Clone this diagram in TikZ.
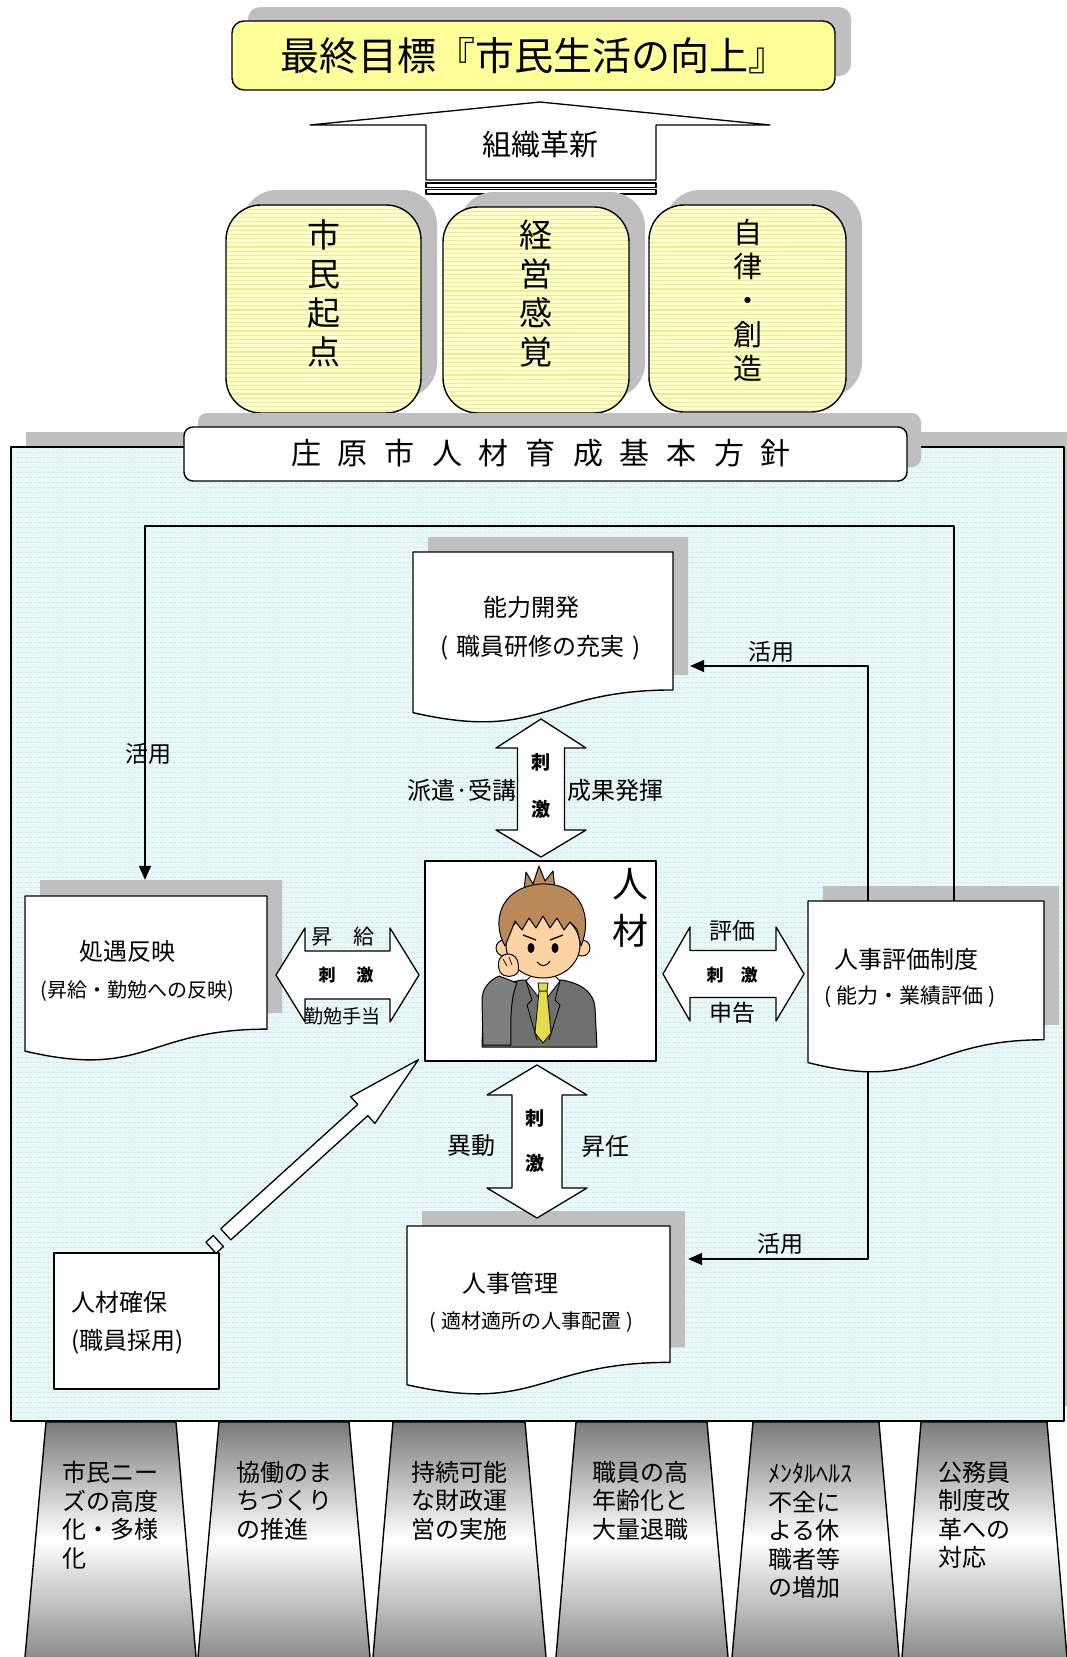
\documentclass[tikz,border=0pt]{standalone}
\usepackage{fontspec}
\setmainfont{Noto Sans CJK JP}
\usetikzlibrary{arrows.meta,calc}

\definecolor{shadowgray}{HTML}{BFBFBF}
\definecolor{goalyellow}{HTML}{FFFF99}
\definecolor{pillarbase}{HTML}{FFFFD2}
\definecolor{pillarstripe}{HTML}{EDED8E}
\definecolor{panelfill}{HTML}{E8F8F8}
\definecolor{paneltex}{HTML}{D2EAEA}
\definecolor{skin}{HTML}{FCD3A1}
\definecolor{hair}{HTML}{B9895A}
\definecolor{suit}{HTML}{6F6F6F}
\definecolor{suitlight}{HTML}{7F7F7F}
\definecolor{tie}{HTML}{E6DC4A}
\definecolor{trapdark}{HTML}{7A7A7A}
\definecolor{trapbot}{HTML}{8C8C8C}

\newcommand\fs[1]{\fontsize{#1}{#1}\selectfont}
\newcommand\gapch{\hspace{17pt}}
% document shape: left x, top y, right x, nominal height
\newcommand\docshape[5][]{\path[#1] (#2,#3) -- (#4,#3) -- (#4,{#3+0.802*#5})
  .. controls ({(#2+#4)/2},{#3+0.802*#5}) and ({(#2+#4)/2},{#3+1.107*#5}) .. (#2,{#3+0.934*#5}) -- cycle;}

\begin{document}
\begin{tikzpicture}[x=1pt, y=-1pt, line join=round,
  outl/.style={draw=black, line width=1.4pt},
  conn/.style={draw=black, line width=1.5pt, -{Triangle[length=14pt,width=12pt]}},
  lbl/.style={inner sep=0pt, font=\fs{24}},
  stim/.style={inner sep=0pt, font=\bfseries\fs{17}},
  docarea/.style={inner sep=0pt, draw=none},
  btext/.style={anchor=north west, align=left, inner sep=0pt, font=\fontsize{24}{28.5}\selectfont},
  trap/.style={top color=trapdark, bottom color=trapbot, middle color=white},
  blockarrow/.style={outl, fill=white, line width=1.3pt},
  pillar/.style={outl, rounded corners=35pt, fill=pillarbase, inner sep=0pt,
    path picture={\foreach \k in {1,...,50}{\draw[pillarstripe, line width=1.3pt]
      ([yshift=-\k*4.2pt]path picture bounding box.north west) -- ([yshift=-\k*4.2pt]path picture bounding box.north east);}}},
  panel/.style={draw=black, line width=1.2pt, fill=panelfill, inner sep=0pt,
    path picture={\foreach \k in {1,...,194}{\draw[paneltex, line width=0.7pt, dash pattern=on 3pt off 1.5pt]
      ([yshift=-\k*5pt]path picture bounding box.north west) -- ([yshift=-\k*5pt]path picture bounding box.north east);}}},
  pillartext/.style={align=center, inner sep=0pt, font=\fontsize{33}{39}\selectfont}
]
\useasboundingbox (0,0) rectangle (1067,1657);
\fill[white] (0,0) rectangle (1067,1657);

% ---------- final goal ----------
\fill[shadowgray, rounded corners=12pt] (248,7) rectangle (851,76);
\node[outl, fill=goalyellow, rounded corners=12pt, minimum width=603pt, minimum height=69pt,
  inner sep=0pt, font=\fs{39}] (goal) at (533.5,55.5) {\raisebox{3pt}{最終目標『市民生活の向上』}};

% ---------- organisational reform arrow ----------
\draw[blockarrow] (310,125) -- (540,102) -- (770,125) -- (656,125) -- (656,180) -- (426,180) -- (426,125) -- cycle;
\draw[outl, line width=1.1pt, fill=white] (426,183) rectangle (656,187.5);
\draw[outl, line width=1.1pt, fill=white] (426,189.5) rectangle (656,194);
\node[inner sep=0pt, font=\fs{29}] (kakushin) at (540,145) {組織革新};

% ---------- three pillars ----------
\fill[shadowgray, rounded corners=35pt] (242,190) rectangle (437,398);
\fill[shadowgray, rounded corners=35pt] (459,192) rectangle (645,398);
\fill[shadowgray, rounded corners=35pt] (665,190) rectangle (862,397);
\node[pillar, minimum width=195pt, minimum height=208pt] (p1) at (323.5,309) {};
\node[pillar, minimum width=186pt, minimum height=206pt] (p2) at (536,310) {};
\node[pillar, minimum width=197pt, minimum height=207pt] (p3) at (747.5,308.5) {};
\node[pillartext] (p1t) at (323.5,293.5) {市\\民\\起\\点};
\node[pillartext] (p2t) at (536,293.5) {経\\営\\感\\覚};
\node[pillartext, font=\fontsize{29}{34}\selectfont] (p3t) at (747.5,300) {自\\律\\・\\創\\造};

% ---------- policy panel ----------
\fill[shadowgray] (26,432) rectangle (1080,1406);
\node[panel, minimum width=1053pt, minimum height=974pt] (panel) at (537.5,934) {};
\fill[shadowgray, rounded corners=9pt] (198,413) rectangle (921,467);
\node[outl, fill=white, rounded corners=9pt, minimum width=723pt, minimum height=54pt, inner sep=0pt] (banner) at (545.5,454) {};
\node[inner sep=0pt, font=\fs{30}] (bannertext) at (541,453)
  {庄\gapch 原\gapch 市\gapch 人\gapch 材\gapch 育\gapch 成\gapch 基\gapch 本\gapch 方\gapch 針};

% ---------- document boxes ----------
\docshape[fill=shadowgray, xshift=15pt, yshift=15pt]{413}{552}{673}{172}
\docshape[outl, fill=white]{413}{552}{673}{172}
\node[docarea, minimum width=260pt, minimum height=160.6pt] (nouryoku) at (543,632.3) {};
\node[inner sep=0pt, font=\fs{24}] (nouryokuA) at (531,607) {能力開発};
\node[inner sep=0pt, font=\fs{24}] (nouryokuB) at (541,648) {(\hspace{8pt}職員研修の充実\hspace{8pt})};

\docshape[fill=shadowgray, xshift=15pt, yshift=16pt]{25}{896}{267}{166}
\docshape[outl, fill=white]{25}{896}{267}{166}
\node[docarea, minimum width=242pt, minimum height=155pt] (shogu) at (146,973.5) {};
\node[inner sep=0pt, font=\fs{24}] (shoguA) at (127,951) {処遇反映};
\node[inner sep=0pt, font=\fs{20}] (shoguB) at (137,991) {(昇給・勤勉への反映)};

\docshape[fill=shadowgray, xshift=15pt, yshift=15pt]{808}{901}{1044}{173}
\docshape[outl, fill=white]{808}{901}{1044}{173}
\node[docarea, minimum width=236pt, minimum height=161.6pt] (hyoka) at (926,981.8) {};
\node[inner sep=0pt, font=\fs{24}] (hyokaA) at (906,959) {人事評価制度};
\node[inner sep=0pt, font=\fs{21}] (hyokaB) at (910,997) {(\hspace{5pt}能力・業績評価\hspace{5pt})};

\docshape[fill=shadowgray, xshift=15pt, yshift=15pt]{407}{1226}{670}{170}
\docshape[outl, fill=white]{407}{1226}{670}{170}
\node[docarea, minimum width=263pt, minimum height=158.8pt] (kanri) at (538.5,1305.4) {};
\node[inner sep=0pt, font=\fs{24}] (kanriA) at (510,1283) {人事管理};
\node[inner sep=0pt, font=\fs{20}] (kanriB) at (531,1322) {(\hspace{5pt}適材適所の人事配置\hspace{5pt})};

% ---------- human resources (centre) ----------
\node[outl, line width=1.3pt, fill=white, minimum width=231pt, minimum height=200pt, inner sep=0pt] (jinzai) at (540.5,961) {};
% figure: suit and arm
\draw[line width=1pt, fill=suit] (482,1047) -- (483,1005) .. controls (484,990) and (498,984) .. (522,980) -- (562,980)
  .. controls (584,984) and (594,994) .. (595,1008) -- (597,1047) -- cycle;
\draw[line width=0.8pt, fill=white] (526,981) -- (543,1003) -- (560,981) -- (553,974) -- (533,974) -- cycle;
\draw[line width=0.8pt, fill=tie] (539,991) -- (547,991) -- (551,1033) -- (543,1043) -- (535,1033) -- cycle;
\draw[line width=0.8pt, fill=tie] (538,983) -- (548,983) -- (547,991) -- (539,991) -- cycle;
\draw[line width=0.8pt] (526,981) -- (532,1000) -- (527,1005) -- (537,1040);
\draw[line width=0.8pt] (560,981) -- (555,1000) -- (560,1005) -- (549,1040);
\draw[line width=1pt, fill=suitlight] (483,1045) -- (482,1000) .. controls (482,988) and (490,980) .. (499,976)
  -- (517,983) .. controls (512,995) and (510,1010) .. (511,1045) -- cycle;
% neck, ears, face
\fill[skin] (535,966) rectangle (551,978);
\draw[line width=1pt, fill=skin] (504,948) circle[radius=8pt];
\draw[line width=1pt, fill=skin] (582,948) circle[radius=8pt];
\draw[line width=1pt, fill=skin] (543,945) ellipse[x radius=37pt, y radius=33pt];
% hair
\draw[line width=1pt, fill=hair] (524,890) -- (526,872) -- (533,884) -- (539,866) -- (545,881) -- (553,871) -- (555,890) -- cycle;
\draw[line width=1pt, fill=hair] (505,946) .. controls (492,924) and (498,888) .. (540,884) .. controls (582,882) and (593,918) .. (581,946)
  -- (577,929) -- (570,922) -- (564,930) -- (557,918) -- (550,928) -- (543,916) -- (536,928) -- (529,918) -- (522,930)
  -- (515,921) -- (510,934) -- cycle;
% face details
\fill (531,948) ellipse[x radius=3.5pt, y radius=5pt];
\fill (555,948) ellipse[x radius=3.5pt, y radius=5pt];
\draw[line width=1.3pt] (523,935) -- (536,940);
\draw[line width=1.3pt] (563,935) -- (550,940);
\draw[line width=1pt] (537,962) .. controls (541,967) and (546,967) .. (550,961);
% fist
\draw[line width=1pt, fill=skin] (500,972) .. controls (496,962) and (500,954) .. (508,954) .. controls (516,954) and (520,962) .. (518,972)
  .. controls (514,978) and (504,978) .. (500,972) -- cycle;
\draw[line width=0.7pt] (503,959) -- (507,966) (509,957) -- (512,965);
\node[align=center, inner sep=0pt, font=\fontsize{36}{47}\selectfont] (jinzaitext) at (630,908) {人\\材};

% ---------- recruitment ----------
\node[outl, line width=1.3pt, fill=white, minimum width=165pt, minimum height=136pt, inner sep=0pt] (kakuho) at (136.5,1321) {};
\node[anchor=west, align=left, inner sep=0pt, font=\fontsize{24}{38}\selectfont] (kakuhotext) at (71,1323) {人材確保\\(職員採用)};

% ---------- stimulus block arrows ----------
\draw[blockarrow] (541,719) -- (586,748) -- (564.5,748) -- (564.5,830) -- (586,830) -- (541,857)
  -- (496,830) -- (517.5,830) -- (517.5,748) -- (496,748) -- cycle;
\node[align=center, inner sep=0pt, font=\bfseries\fontsize{19}{47}\selectfont] (stimT) at (541,786) {刺\\激};
\node[lbl, anchor=east] (haken) at (517,790) {派遣·受講};
\node[lbl, anchor=west] (seika) at (567,790) {成果発揮};

\draw[blockarrow] (537,1065) -- (587,1095) -- (562,1095) -- (562,1188) -- (587,1188) -- (537,1218)
  -- (487,1188) -- (512,1188) -- (512,1095) -- (487,1095) -- cycle;
\node[align=center, inner sep=0pt, font=\bfseries\fontsize{19}{45}\selectfont] (stimB) at (535,1140.5) {刺\\激};
\node[lbl, anchor=east] (idou) at (496,1146) {異動};
\node[lbl, anchor=west] (shounin) at (581,1146) {昇任};

\draw[blockarrow] (276,975) -- (305,928) -- (305,951) -- (390,951) -- (390,928) -- (419,975)
  -- (390,1022) -- (390,999) -- (305,999) -- (305,1022) -- cycle;
\node[inner sep=0pt, font=\fs{21}] (shoukyu) at (343,937) {昇　給};
\node[stim] (stimL) at (346,975) {刺\hspace{21pt}激};
\node[inner sep=0pt, font=\fs{19}] (kinben) at (342,1016) {勤勉手当};

\draw[blockarrow] (663,974) -- (690,927) -- (690,950.5) -- (776,950.5) -- (776,927) -- (804,974)
  -- (776,1021) -- (776,997.5) -- (690,997.5) -- (690,1021) -- cycle;
\node[inner sep=0pt, font=\fs{23}] (hyoukaL) at (732,931) {評価};
\node[stim] (stimR) at (732,975) {刺　激};
\node[inner sep=0pt, font=\fs{23}] (shinkoku) at (732,1013) {申告};

% recruitment arrow towards the centre, with striped tail
\begin{scope}[shift={(kakuho.north east)}, rotate=42.2]
  \draw[blockarrow] (-3.35,-16.75) -- (6.65,-16.75) -- (6.65,-1.75) -- (-3.35,-1.75) -- cycle;
  \draw[blockarrow] (16.65,-16.75) -- (201.65,-16.75) -- (201.65,-27.25) -- (276.65,-9.25)
    -- (201.65,8.75) -- (201.65,-1.75) -- (16.65,-1.75) -- cycle;
\end{scope}

% ---------- feedback connectors ----------
\coordinate (loopR) at (954,526);
\coordinate (loopL) at (145,526);
\coordinate (useN) at (868,666);
\coordinate (useS) at (868,1259);
\draw[conn] (hyoka.north -| loopR) -- (loopR) -- (loopL) -- ($(loopL |- shogu.north)+(0,-16)$);
\draw[conn] (hyoka.north -| useN) -- (useN) -- ($(useN -| nouryoku.east)+(17,0)$);
\draw[conn] ($(hyoka.south -| useS)+(0,9)$) -- (useS) -- ($(useS -| kanri.east)+(18,0)$);
\node[inner sep=0pt, font=\fs{23}] (use1) at (771,652) {活用};
\node[inner sep=0pt, font=\fs{23}] (use2) at (148,754) {活用};
\node[inner sep=0pt, font=\fs{23}] (use3) at (780,1244) {活用};

% ---------- environment pillars below ----------
\shade[trap] (46,1422) -- (176,1422) -- (196,1657) -- (25,1657) -- cycle;
\draw[outl] (25,1657) -- (46,1422) -- (176,1422) -- (196,1657);
\shade[trap] (219,1422) -- (349,1422) -- (370,1657) -- (198,1657) -- cycle;
\draw[outl] (198,1657) -- (219,1422) -- (349,1422) -- (370,1657);
\shade[trap] (393,1422) -- (525,1422) -- (546,1657) -- (373,1657) -- cycle;
\draw[outl] (373,1657) -- (393,1422) -- (525,1422) -- (546,1657);
\shade[trap] (576,1422) -- (707,1422) -- (728,1657) -- (556,1657) -- cycle;
\draw[outl] (556,1657) -- (576,1422) -- (707,1422) -- (728,1657);
\shade[trap] (753,1422) -- (879,1422) -- (899,1657) -- (732,1657) -- cycle;
\draw[outl] (732,1657) -- (753,1422) -- (879,1422) -- (899,1657);
\shade[trap] (921,1422) -- (1047,1422) -- (1067,1657) -- (902,1657) -- cycle;
\draw[outl] (902,1657) -- (921,1422) -- (1047,1422) -- (1067,1657);

\node[btext] (b1) at (62,1461) {市民ニー\\ズの高度\\化・多様\\化};
\node[btext] (b2) at (236,1461) {協働のま\\ちづくり\\の推進};
\node[btext] (b3) at (411,1461) {持続可能\\な財政運\\営の実施};
\node[btext] (b4) at (592,1461) {職員の高\\年齢化と\\大量退職};
\node[btext] (b5) at (768,1463) {ﾒﾝﾀﾙﾍﾙｽ\\不全に\\よる休\\職者等\\の増加};
\node[btext] (b6) at (938,1461) {公務員\\制度改\\革への\\対応};
\end{tikzpicture}
\end{document}
